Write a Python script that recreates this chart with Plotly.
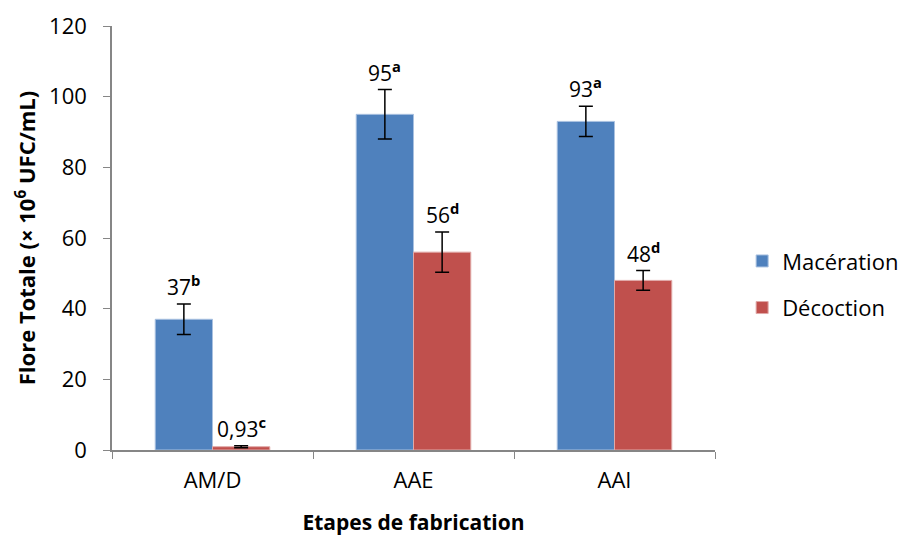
import plotly.graph_objects as go

categories = ["AM/D", "AAE", "AAI"]
maceration = [37, 95, 93]
maceration_err = [4.3, 7.0, 4.3]
maceration_lbl = ["37", "95", "93"]
maceration_sup = ["b", "a", "a"]
decoction = [0.93, 56, 48]
decoction_err = [0.3, 5.7, 2.8]
decoction_lbl = ["0,93", "56", "48"]
decoction_sup = ["c", "d", "d"]

FONT = "Open Sans"
BLUE = "#4F81BD"
RED = "#C0504D"

fig = go.Figure()
fig.add_trace(go.Bar(
    name="Macération", x=categories, y=maceration, marker_color=BLUE, legendgroup="m",
    marker_line=dict(color="#A9C1E0", width=1),
    error_y=dict(type="data", array=maceration_err, color="black", thickness=1.5, width=7),
))
fig.add_trace(go.Bar(
    name="Décoction", x=categories, y=decoction, marker_color=RED, legendgroup="d",
    marker_line=dict(color="#E0A9A8", width=1),
    error_y=dict(type="data", array=decoction_err, color="black", thickness=1.5, width=7),
))

for i, c in enumerate(categories):
    for vals, errs, lbls, sups, off in [
        (maceration, maceration_err, maceration_lbl, maceration_sup, -0.145),
        (decoction, decoction_err, decoction_lbl, decoction_sup, 0.145),
    ]:
        fig.add_annotation(
            x=i + off, y=vals[i] + errs[i], xref="x", yref="y",
            text=f"{lbls[i]}<sup><b>{sups[i]}</b></sup>",
            showarrow=False, yanchor="bottom", yshift=1,
            font=dict(family=FONT, size=21, color="black"),
        )

fig.update_layout(
    width=907, height=536,
    margin=dict(l=104, r=200, t=18, b=94, autoexpand=False),
    paper_bgcolor="white", plot_bgcolor="white",
    barmode="group", bargap=0.43, bargroupgap=0,
    font=dict(family=FONT, size=22, color="black"),
    legend=dict(x=1.045, y=0.39, xanchor="left", yanchor="middle",
                font=dict(family=FONT, size=22), tracegroupgap=15),
    showlegend=True,
)
fig.update_xaxes(
    showline=True, linecolor="#868686", linewidth=1.5,
    ticks="outside", tickson="boundaries", ticklen=7, tickcolor="#868686",
    ticklabelstandoff=10,
    title=dict(text="<b>Etapes de fabrication</b>", font=dict(family=FONT, size=21), standoff=22),
    tickfont=dict(family=FONT, size=22),
)
fig.update_yaxes(
    range=[0, 120], dtick=20, showgrid=False, zeroline=False,
    showline=True, linecolor="#868686", linewidth=1.5,
    ticks="outside", ticklen=7, tickcolor="#868686",
    ticklabelstandoff=12,
    title=dict(text="<b>Flore Totale (× 10<sup>6</sup> UFC/mL)</b>", font=dict(family=FONT, size=22), standoff=7),
    tickfont=dict(family=FONT, size=22),
)

fig.write_html("out.html")
